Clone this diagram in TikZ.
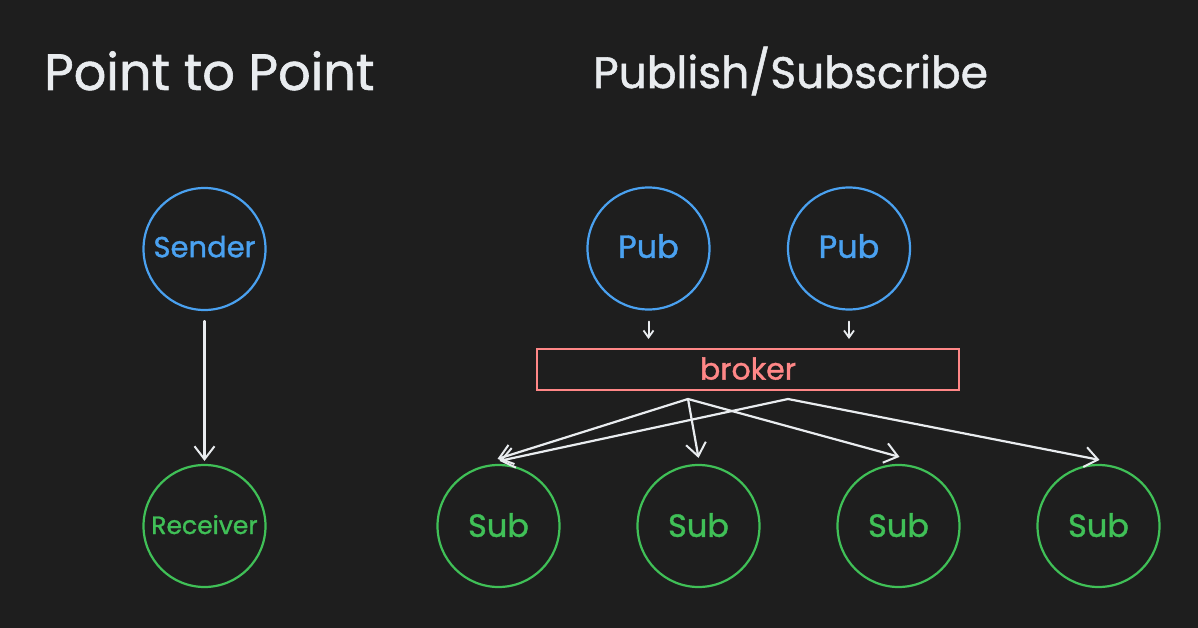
\documentclass[tikz,border=0pt]{standalone}
\usepackage{fontspec}
\setmainfont{Poppins}[UprightFeatures={FakeBold=1.2}]
\usetikzlibrary{arrows.meta,calc}
\definecolor{bg}{RGB}{30,30,30}
\definecolor{ink}{RGB}{233,236,239}
\definecolor{blu}{RGB}{74,161,240}
\definecolor{grn}{RGB}{64,192,87}
\definecolor{red}{RGB}{255,135,135}
\tikzset{
  title/.style={anchor=base west, text=ink, inner sep=0pt},
  ball/.style={circle, line width=2.2pt, minimum size=122pt, inner sep=0pt, font=\fontsize{32}{36}\selectfont},
  pubball/.style={ball, draw=blu, text=blu},
  subball/.style={ball, draw=grn, text=grn},
  conn/.style={draw=ink, line width=2.2pt, line cap=round, -{Straight Barb[length=13pt,width=20pt,line width=2pt]}},
  small/.style={draw=ink, line width=2pt, line cap=round, -{Straight Barb[length=7pt,width=10pt,line width=1.8pt]}},
}
\newcommand{\up}[2]{\raisebox{#1}{#2}}
\begin{document}
\begin{tikzpicture}[x=1pt,y=-1pt]
\fill[bg] (0,0) rectangle (1198,628);
\useasboundingbox (0,0) rectangle (1198,628);
% titles
\node[title, font=\fontsize{51}{56}\selectfont] (t1) at (44,90) {Point to Point};
\node[title, font=\fontsize{44}{50}\selectfont] (t2) at (593,88) {Publish/Subscribe};
% point to point
\node[pubball, font=\fontsize{29}{34}\selectfont] (snd) at (204.5,249) {\up{5pt}{Sender}};
\node[subball, font=\fontsize{25}{30}\selectfont] (rcv) at (204.5,526) {\up{3pt}{Receiver}};
\draw[conn, shorten <=10pt, shorten >=3pt] (snd) -- (rcv);
% pub/sub
\node[pubball] (p1) at (648.5,248.5) {\up{5pt}{Pub}};
\node[pubball] (p2) at (849,248.5) {\up{5pt}{Pub}};
\node[draw=red, line width=2pt, minimum width=422pt, minimum height=41pt, inner sep=0pt,
      text=red, font=\fontsize{30}{34}\selectfont] (br) at (748,369.5) {\up{2pt}{broker}};
\node[subball] (s1) at (498.5,526) {\up{2pt}{Sub}};
\node[subball] (s2) at (698.5,526) {\up{2pt}{Sub}};
\node[subball] (s3) at (898.5,526) {\up{2pt}{Sub}};
\node[subball] (s4) at (1098.5,526) {\up{2pt}{Sub}};
\coordinate (pa) at ($(p1.south)+(0,11)$);
\coordinate (pb) at ($(p2.south)+(0,11)$);
\draw[small] (pa) -- ($(br.north)!(pa)!(br.north east)+(0,-9)$);
\draw[small] (pb) -- ($(br.north)!(pb)!(br.north east)+(0,-9)$);
\coordinate (b1) at (688,399);
\coordinate (b2) at (788,399);
\draw[conn] (b1) -- ($(s1.north)+(-1,-5)$);
\draw[conn] (b1) -- ($(s2.north)+(0,-6)$);
\draw[conn] (b1) -- ($(s3.north)+(1,-7)$);
\draw[conn] (b2) -- ($(s1.north)+(1,-3)$);
\draw[conn] (b2) -- ($(s4.north)+(1,-4)$);
\end{tikzpicture}
\end{document}
